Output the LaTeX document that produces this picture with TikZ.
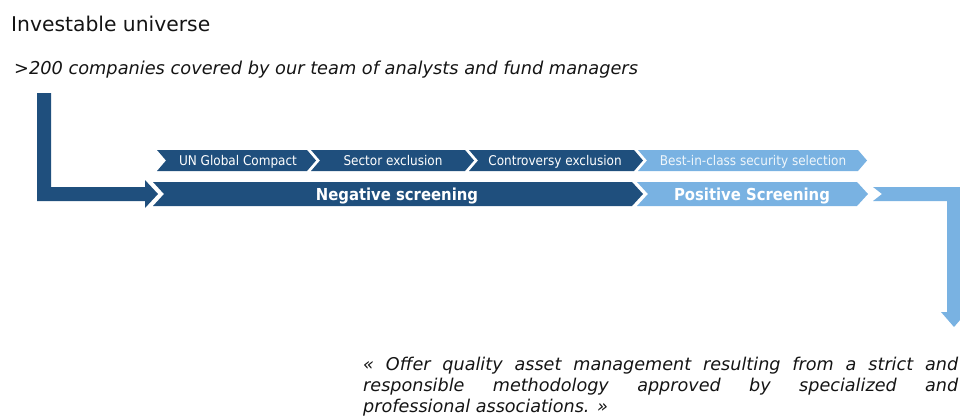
\documentclass[tikz,border=0pt]{standalone}
\usepackage{fontspec}
\setmainfont{DejaVu Sans}
\newfontfamily\condfont{DejaVu Sans Condensed}
\definecolor{darkblue}{RGB}{31,79,125}
\definecolor{lightblue}{RGB}{121,178,226}
\definecolor{textgray}{RGB}{20,20,20}
\newcommand\chevronshape[6]{%
  \fill[#1] (#2,#4) -- (#3,#4) -- ({#3+#6},{(#4+#5)/2}) -- (#3,#5) -- (#2,#5) -- ({#2+#6},{(#4+#5)/2}) -- cycle;}
\tikzset{
  smalllabel/.style={text=white, font=\condfont\fontsize{13.4}{14}\selectfont, inner sep=0pt, anchor=base},
  biglabel/.style={text=white, font=\condfont\bfseries\fontsize{16.5}{17}\selectfont, inner sep=0pt, anchor=base},
  plaintext/.style={text=textgray, inner sep=0pt, anchor=base west}
}
\begin{document}
\begin{tikzpicture}[x=1pt,y=-1pt]
\useasboundingbox (0,0) rectangle (960,415);
\clip (0,0) rectangle (960,415);
% titles
\node[plaintext, font=\fontsize{20.3}{22}\selectfont] (title) at (11,31) {Investable universe};
\node[plaintext, font=\itshape\fontsize{17.75}{20}\selectfont] (sub) at (14,74) {>200 companies covered by our team of analysts and fund managers};
% left L arrow
\fill[darkblue] (37,93) -- (51,93) -- (51,187) -- (145,187) -- (145,180) -- (158,194) -- (145,208) -- (145,201) -- (37,201) -- cycle;
% small row
\chevronshape{darkblue}{157}{307}{150}{171}{9}
\chevronshape{darkblue}{311}{465}{150}{171}{9}
\chevronshape{darkblue}{469}{634}{150}{171}{9}
\chevronshape{lightblue}{638}{858}{150}{171}{9}
% big row
\chevronshape{darkblue}{153}{632}{182}{206}{11}
\chevronshape{lightblue}{637}{857}{182}{206}{11}
% right L arrow
\fill[lightblue] (873,187) -- (961,187) -- (961,312) -- (967,312) -- (954,327) -- (941,312) -- (947,312) -- (947,201) -- (873,201) -- (882,194) -- cycle;
% labels
\node[smalllabel] (un) at (238,165.3) {UN Global Compact};
\node[smalllabel] (sector) at (393,165.3) {Sector exclusion};
\node[smalllabel] (contro) at (555,165.3) {Controversy exclusion};
\node[smalllabel, text=white!88!lightblue] (best) at (753,165.3) {Best-in-class security selection};
\node[biglabel] (neg) at (397,200) {Negative screening};
\node[biglabel] (pos) at (752,200) {Positive Screening};
% quote
\node[text=textgray, anchor=north west, inner sep=0pt, text width=595pt, align=justify,
      font=\itshape\fontsize{17.6}{21}\selectfont] (quote) at (363,356.5)
  {« Offer quality asset management resulting from a strict and\linebreak responsible methodology approved by specialized and\linebreak professional associations. »};
\end{tikzpicture}
\end{document}
